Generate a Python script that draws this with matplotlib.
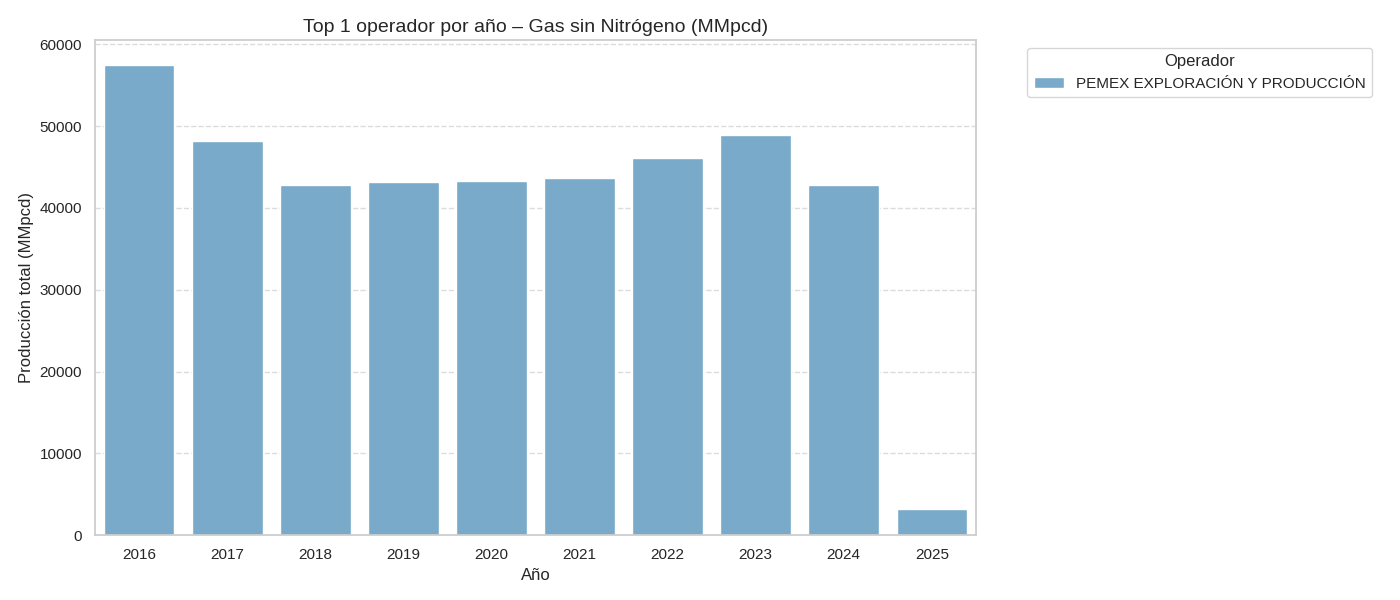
import matplotlib
matplotlib.use("Agg")
import matplotlib.pyplot as plt
import seaborn as sns
import pandas as pd

years = ["2016", "2017", "2018", "2019", "2020", "2021", "2022", "2023", "2024", "2025"]
values = [57450, 48150, 42780, 43150, 43270, 43640, 46100, 48870, 42780, 3220]
operator = "PEMEX EXPLORACIÓN Y PRODUCCIÓN"

df = pd.DataFrame({"Año": years, "Produccion": values, "Operador": [operator] * len(years)})

sns.set_theme(style="whitegrid")
plt.rcParams['font.family'] = ['Arial', 'Liberation Sans', 'DejaVu Sans']

fig, ax = plt.subplots(figsize=(14, 6), dpi=100)
sns.barplot(data=df, x="Año", y="Produccion", hue="Operador",
            palette=["#79aac9"], saturation=1, ax=ax, dodge=False)
ax.set_title("Top 1 operador por año – Gas sin Nitrógeno (MMpcd)", fontsize=14)
ax.set_xlabel("Año", fontsize=12)
ax.set_ylabel("Producción total (MMpcd)", fontsize=12)
ax.grid(axis='x', visible=False)
ax.grid(axis='y', linestyle='--', alpha=0.7)
ax.set_ylim(0, 60500)
ax.legend(title="Operador", bbox_to_anchor=(1.05, 1), loc='upper left')
fig.subplots_adjust(left=0.068, right=0.697, top=0.933, bottom=0.108)
fig.savefig("out.png")
